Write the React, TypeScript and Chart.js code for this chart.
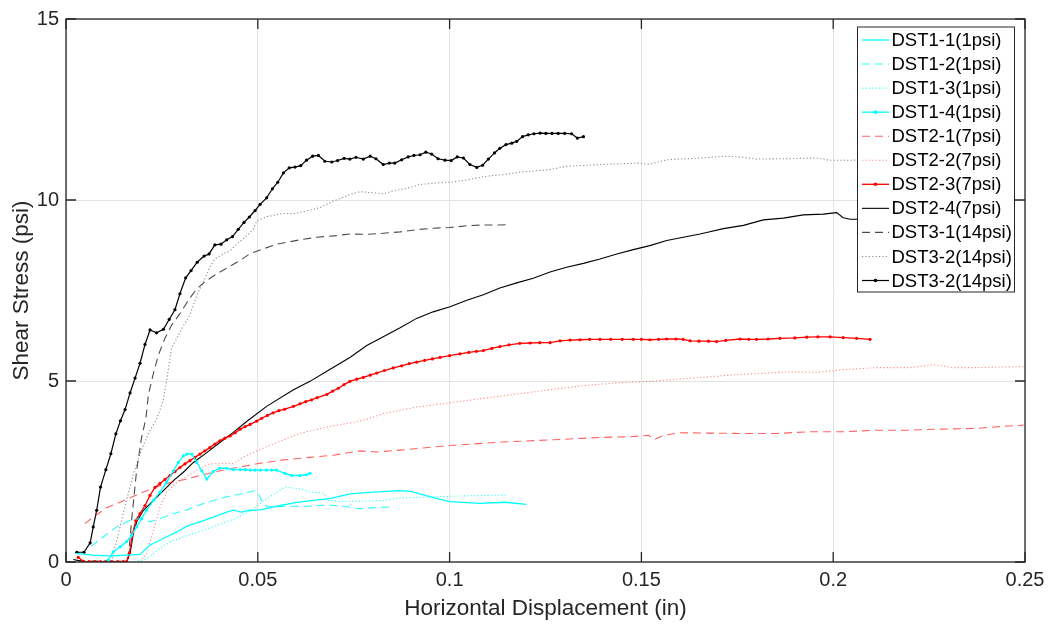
import React, { useEffect, useRef } from 'react';
import { Chart, registerables } from 'chart.js';

Chart.register(...registerables);

// ---------- axis ticks ----------
const X_TICKS = [0, 0.05, 0.1, 0.15, 0.2, 0.25];
const X_TICK_LABELS = ['0', '0.05', '0.1', '0.15', '0.2', '0.25'];
const Y_TICKS = [0, 5, 10, 15];
const Y_TICK_LABELS = ['0', '5', '10', '15'];
const X_TITLE = 'Horizontal Displacement (in)';
const Y_TITLE = 'Shear Stress (psi)';

// ---------- series names ----------
const SERIES_NAMES = [
  'DST1-1(1psi)', 'DST1-2(1psi)', 'DST1-3(1psi)', 'DST1-4(1psi)',
  'DST2-1(7psi)', 'DST2-2(7psi)', 'DST2-3(7psi)', 'DST2-4(7psi)',
  'DST3-1(14psi)', 'DST3-2(14psi)', 'DST3-2(14psi)',
];

// ---------- series data: [x (in), y (psi)] ----------
const DST1_1 = [[0.0026,0.24],[0.0071,0.19],[0.0115,0.17],[0.0158,0.19],[0.0193,0.21],[0.0219,0.47],[0.0254,0.65],[0.0289,0.83],[0.0315,0.99],[0.0349,1.11],[0.0384,1.24],[0.0419,1.38],[0.0436,1.43],[0.0458,1.38],[0.048,1.43],[0.0506,1.44],[0.0549,1.54],[0.0601,1.65],[0.0645,1.70],[0.0688,1.75],[0.074,1.88],[0.0801,1.93],[0.0871,1.97],[0.09,1.95],[0.095,1.80],[0.1,1.67],[0.108,1.62],[0.1145,1.65],[0.12,1.59]];
const DST1_2 = [[0.0066,0.44],[0.0097,0.69],[0.0132,0.97],[0.0167,1.15],[0.0193,1.20],[0.0219,1.11],[0.0245,1.20],[0.028,1.34],[0.0315,1.44],[0.0349,1.58],[0.0384,1.70],[0.0419,1.80],[0.0454,1.88],[0.0493,1.97],[0.0501,1.90],[0.0514,1.61],[0.0527,1.52],[0.0575,1.54],[0.0636,1.54],[0.068,1.58],[0.0723,1.54],[0.0766,1.47],[0.0801,1.50],[0.0845,1.52]];
const DST1_3 = [[0.017,0.0],[0.02,0.05],[0.0219,0.15],[0.0245,0.38],[0.0271,0.56],[0.0306,0.69],[0.0349,0.85],[0.0393,1.01],[0.0436,1.18],[0.048,1.40],[0.0523,1.75],[0.0571,2.07],[0.061,2.02],[0.0636,1.93],[0.0671,1.91],[0.0684,1.70],[0.0714,1.67],[0.0784,1.68],[0.0827,1.70],[0.0871,1.77],[0.095,1.80],[0.105,1.83],[0.115,1.85]];
const DST1_4 = [[0.011,0.05],[0.0123,0.28],[0.0141,0.42],[0.0158,0.56],[0.0171,0.74],[0.0184,0.97],[0.0197,1.20],[0.021,1.43],[0.0228,1.70],[0.0245,1.93],[0.0262,2.20],[0.028,2.52],[0.0293,2.75],[0.0306,2.93],[0.0315,2.98],[0.0328,2.98],[0.0341,2.75],[0.0354,2.52],[0.0367,2.29],[0.0384,2.50],[0.0401,2.59],[0.0419,2.59],[0.0436,2.55],[0.0454,2.55],[0.0467,2.55],[0.048,2.54],[0.0493,2.54],[0.0506,2.54],[0.0523,2.54],[0.0536,2.54],[0.0549,2.54],[0.0571,2.45],[0.0588,2.39],[0.061,2.39],[0.0627,2.41],[0.0636,2.45]];
const DST2_1 = [[0.0049,1.06],[0.0071,1.24],[0.0106,1.50],[0.0141,1.65],[0.0175,1.81],[0.021,1.97],[0.0245,2.11],[0.028,2.22],[0.0315,2.29],[0.0349,2.39],[0.0393,2.50],[0.0436,2.59],[0.0471,2.66],[0.0501,2.72],[0.0567,2.82],[0.0636,2.89],[0.0697,2.95],[0.0766,3.07],[0.081,3.04],[0.0871,3.09],[0.1,3.22],[0.115,3.32],[0.1297,3.39],[0.1392,3.44],[0.147,3.46],[0.1518,3.50],[0.1535,3.39],[0.1557,3.50],[0.1601,3.57],[0.1679,3.56],[0.1766,3.55],[0.1853,3.55],[0.194,3.60],[0.2026,3.60],[0.2113,3.64],[0.22,3.64],[0.227,3.67],[0.2374,3.69],[0.2418,3.73],[0.2496,3.78]];
const DST2_2 = [[0.0193,0.0],[0.021,0.24],[0.0228,0.88],[0.0245,1.52],[0.0262,1.93],[0.0289,2.20],[0.0332,2.48],[0.0375,2.71],[0.0401,2.72],[0.0436,2.72],[0.0462,2.89],[0.0501,3.09],[0.0549,3.30],[0.061,3.55],[0.068,3.73],[0.074,3.84],[0.0784,3.94],[0.0827,4.10],[0.0914,4.28],[0.1001,4.40],[0.1088,4.52],[0.1175,4.64],[0.1262,4.76],[0.1349,4.87],[0.1436,4.95],[0.1522,4.99],[0.1635,5.08],[0.174,5.17],[0.1879,5.25],[0.1957,5.24],[0.2026,5.31],[0.2113,5.37],[0.22,5.37],[0.2261,5.45],[0.2313,5.37],[0.2374,5.37],[0.2496,5.40]];
const DST2_3 = [[0.0032,0.13],[0.0045,0.02],[0.006,0.01],[0.0075,0.01],[0.009,0.01],[0.0105,0.01],[0.012,0.01],[0.0135,0.01],[0.015,0.01],[0.0158,0.01],[0.0165,0.24],[0.0174,0.79],[0.0182,1.15],[0.0193,1.34],[0.0206,1.56],[0.0219,1.84],[0.0232,2.06],[0.0245,2.17],[0.0258,2.28],[0.0271,2.39],[0.0284,2.5],[0.0297,2.61],[0.031,2.71],[0.0323,2.80],[0.0336,2.89],[0.0349,2.98],[0.0362,3.07],[0.0375,3.16],[0.0388,3.26],[0.0401,3.35],[0.0414,3.42],[0.0428,3.48],[0.0441,3.57],[0.0454,3.67],[0.0467,3.74],[0.048,3.80],[0.0497,3.89],[0.051,3.97],[0.0525,4.05],[0.054,4.12],[0.0555,4.18],[0.057,4.22],[0.0593,4.30],[0.061,4.37],[0.0625,4.43],[0.064,4.48],[0.0655,4.54],[0.068,4.63],[0.0695,4.72],[0.071,4.80],[0.0725,4.9],[0.074,4.99],[0.0758,5.05],[0.0775,5.10],[0.0793,5.16],[0.081,5.22],[0.083,5.29],[0.0853,5.36],[0.0875,5.42],[0.0895,5.48],[0.0914,5.52],[0.0935,5.57],[0.0955,5.61],[0.0975,5.65],[0.1,5.70],[0.1027,5.75],[0.105,5.79],[0.107,5.82],[0.1088,5.84],[0.111,5.90],[0.1131,5.95],[0.1155,6.0],[0.1183,6.04],[0.121,6.05],[0.1235,6.06],[0.1262,6.06],[0.1288,6.11],[0.1314,6.13],[0.134,6.14],[0.1365,6.15],[0.1392,6.15],[0.142,6.15],[0.145,6.15],[0.1479,6.15],[0.15,6.15],[0.1522,6.14],[0.1545,6.15],[0.1566,6.16],[0.159,6.16],[0.1609,6.15],[0.1627,6.11],[0.165,6.10],[0.1675,6.10],[0.1696,6.09],[0.172,6.12],[0.1757,6.16],[0.178,6.15],[0.18,6.15],[0.183,6.16],[0.1861,6.18],[0.19,6.19],[0.1931,6.21],[0.196,6.22],[0.1992,6.22],[0.2026,6.20],[0.2061,6.18],[0.2096,6.15]];
const DST2_4 = [[0.0019,0.07],[0.0045,0.01],[0.0158,0.01],[0.0167,0.24],[0.0177,0.88],[0.0186,1.15],[0.0202,1.43],[0.0228,1.70],[0.0254,1.97],[0.028,2.25],[0.0306,2.48],[0.0332,2.75],[0.0367,3.02],[0.0401,3.30],[0.0436,3.58],[0.0471,3.88],[0.0523,4.30],[0.0593,4.76],[0.0636,4.99],[0.068,5.27],[0.074,5.65],[0.0784,5.98],[0.0827,6.22],[0.0871,6.47],[0.0914,6.73],[0.0957,6.91],[0.1001,7.05],[0.1045,7.23],[0.1088,7.38],[0.1131,7.57],[0.1175,7.71],[0.1218,7.84],[0.1262,8.01],[0.1305,8.14],[0.1349,8.25],[0.1392,8.37],[0.1436,8.51],[0.1479,8.63],[0.1522,8.74],[0.1566,8.88],[0.1609,8.97],[0.1653,9.06],[0.167,9.10],[0.1714,9.21],[0.1766,9.30],[0.1818,9.45],[0.187,9.50],[0.1922,9.59],[0.1974,9.61],[0.2009,9.65],[0.2026,9.51],[0.2044,9.47],[0.2066,9.47],[0.21,9.48]];
const DST3_1 = [[0.003,0.03],[0.0158,0.02],[0.0162,0.05],[0.0171,1.15],[0.0184,2.52],[0.0197,3.44],[0.0208,3.95],[0.0215,4.63],[0.0228,5.22],[0.0241,5.72],[0.0258,6.18],[0.0275,6.54],[0.0297,6.86],[0.0319,7.23],[0.0341,7.55],[0.0367,7.78],[0.0393,7.96],[0.0419,8.12],[0.0454,8.33],[0.048,8.52],[0.0506,8.62],[0.0549,8.78],[0.061,8.90],[0.0654,8.97],[0.0697,9.01],[0.074,9.06],[0.0784,9.05],[0.0827,9.08],[0.0871,9.12],[0.0914,9.18],[0.0957,9.22],[0.1001,9.24],[0.1045,9.29],[0.1088,9.31],[0.1131,9.31],[0.1157,9.32]];
const DST3_2_DOT = [[0.0118,0.02],[0.0136,0.75],[0.0155,1.6],[0.0175,2.4],[0.0195,3.05],[0.0215,3.55],[0.0236,3.95],[0.0252,4.4],[0.0262,4.99],[0.0275,5.9],[0.0289,6.18],[0.0302,6.45],[0.0323,6.82],[0.0341,7.37],[0.0358,7.73],[0.0375,8.14],[0.0388,8.37],[0.041,8.51],[0.0428,8.60],[0.0445,8.78],[0.0471,9.01],[0.0488,9.19],[0.0497,9.42],[0.0523,9.54],[0.0567,9.63],[0.0593,9.62],[0.0636,9.72],[0.0662,9.79],[0.0697,9.97],[0.074,10.15],[0.0766,10.23],[0.0801,10.20],[0.0827,10.17],[0.0853,10.25],[0.0888,10.32],[0.0923,10.43],[0.0966,10.47],[0.101,10.50],[0.1053,10.57],[0.1097,10.66],[0.114,10.70],[0.1183,10.77],[0.1218,10.80],[0.1262,10.84],[0.1305,10.93],[0.1392,10.98],[0.1496,11.02],[0.152,10.99],[0.1566,11.11],[0.1653,11.16],[0.1722,11.21],[0.1757,11.19],[0.18,11.13],[0.187,11.14],[0.1957,11.16],[0.1992,11.10],[0.2053,11.10],[0.21,11.12]];
const DST3_2_MARK = [[0.0028,0.27],[0.0047,0.27],[0.0063,0.53],[0.0071,0.97],[0.008,1.43],[0.009,2.07],[0.0104,2.55],[0.0117,2.99],[0.013,3.54],[0.0142,3.9],[0.0154,4.21],[0.0167,4.67],[0.018,5.08],[0.0193,5.49],[0.0206,6.01],[0.0219,6.41],[0.0236,6.33],[0.0254,6.43],[0.0269,6.70],[0.0284,6.97],[0.0297,7.41],[0.0312,7.85],[0.0326,8.05],[0.0342,8.28],[0.036,8.45],[0.0373,8.51],[0.0388,8.76],[0.0404,8.78],[0.0419,8.90],[0.0434,8.99],[0.0449,9.19],[0.0464,9.38],[0.0478,9.53],[0.0493,9.71],[0.0506,9.88],[0.0523,10.06],[0.0538,10.31],[0.0552,10.49],[0.0567,10.75],[0.0582,10.89],[0.0597,10.91],[0.0612,10.95],[0.0627,11.10],[0.0643,11.21],[0.0658,11.23],[0.0675,11.07],[0.0693,11.05],[0.0708,11.09],[0.0725,11.15],[0.074,11.13],[0.0756,11.18],[0.0775,11.13],[0.0793,11.21],[0.0808,11.14],[0.0827,10.98],[0.0843,11.02],[0.0857,11.02],[0.0875,11.11],[0.0892,11.19],[0.0907,11.23],[0.0923,11.25],[0.0938,11.32],[0.0953,11.27],[0.097,11.14],[0.0988,11.10],[0.1004,11.09],[0.102,11.19],[0.1036,11.16],[0.1053,10.98],[0.1071,10.90],[0.1086,10.96],[0.1101,11.13],[0.1117,11.30],[0.1131,11.43],[0.1147,11.53],[0.1162,11.57],[0.1175,11.62],[0.119,11.75],[0.1205,11.80],[0.122,11.83],[0.1236,11.85],[0.1251,11.84],[0.1267,11.84],[0.1283,11.84],[0.13,11.84],[0.1318,11.83],[0.1333,11.71],[0.1349,11.75]];

const SERIES_DATA = [DST1_1, DST1_2, DST1_3, DST1_4, DST2_1, DST2_2, DST2_3, DST2_4, DST3_1, DST3_2_DOT, DST3_2_MARK];

// ---------- styles (separate from data) ----------
type Sty = { color: string; width: number; dash: number[]; marker: boolean };
const SOLID: number[] = [];
const DASH = [8, 5];
const DOT = [1.2, 2.2];
const STYLES: Sty[] = [
  { color: '#00ffff', width: 1.3, dash: SOLID, marker: false },
  { color: 'rgba(0,255,255,0.85)', width: 1.1, dash: DASH, marker: false },
  { color: 'rgba(0,255,255,0.8)', width: 1.1, dash: DOT, marker: false },
  { color: '#00ffff', width: 1.3, dash: SOLID, marker: true },
  { color: 'rgba(255,0,0,0.62)', width: 1.1, dash: DASH, marker: false },
  { color: 'rgba(255,0,0,0.45)', width: 1.1, dash: DOT, marker: false },
  { color: '#ff0000', width: 1.3, dash: SOLID, marker: true },
  { color: '#000000', width: 1.1, dash: SOLID, marker: false },
  { color: 'rgba(0,0,0,0.7)', width: 1.1, dash: DASH, marker: false },
  { color: 'rgba(0,0,0,0.45)', width: 1.1, dash: DOT, marker: false },
  { color: '#000000', width: 1.2, dash: SOLID, marker: true },
];

const FONT = '"Liberation Sans", Arial, sans-serif';
const AXIS_COLOR = '#262626';

const framePlugin = {
  id: 'matlabFrame',
  afterDatasetsDraw(chart: any) {
    const { ctx, chartArea, scales } = chart;
    const { left, right, top, bottom } = chartArea;
    const xs = scales.x;
    const ys = scales.y;
    ctx.save();
    ctx.strokeStyle = AXIS_COLOR;
    ctx.lineWidth = 1.3;
    ctx.setLineDash([]);
    ctx.strokeRect(left, top, right - left, bottom - top);
    const tl = 10;
    ctx.beginPath();
    X_TICKS.forEach((v) => {
      const px = xs.getPixelForValue(v);
      ctx.moveTo(px, bottom); ctx.lineTo(px, bottom - tl);
      ctx.moveTo(px, top); ctx.lineTo(px, top + tl);
    });
    Y_TICKS.forEach((v) => {
      const py = ys.getPixelForValue(v);
      ctx.moveTo(left, py); ctx.lineTo(left + tl, py);
      ctx.moveTo(right, py); ctx.lineTo(right - tl, py);
    });
    ctx.stroke();
    ctx.restore();
  },
  afterDraw(chart: any) {
    const { ctx } = chart;
    const bx = 857.5, by = 27, bw = 157, bh = 265;
    ctx.save();
    ctx.fillStyle = '#ffffff';
    ctx.fillRect(bx, by, bw, bh);
    ctx.strokeStyle = AXIS_COLOR;
    ctx.lineWidth = 1;
    ctx.strokeRect(bx, by, bw, bh);
    ctx.font = `18.5px ${FONT}`;
    ctx.textBaseline = 'middle';
    ctx.textAlign = 'left';
    SERIES_NAMES.forEach((name, i) => {
      const st = STYLES[i];
      const cy = 40 + i * 24.05;
      ctx.strokeStyle = st.color;
      ctx.lineWidth = st.width;
      ctx.setLineDash(st.dash);
      ctx.beginPath();
      ctx.moveTo(862, cy);
      ctx.lineTo(889, cy);
      ctx.stroke();
      ctx.setLineDash([]);
      if (st.marker) {
        ctx.fillStyle = st.color;
        ctx.beginPath();
        ctx.arc(875.5, cy, 1.8, 0, Math.PI * 2);
        ctx.fill();
      }
      ctx.fillStyle = '#000000';
      ctx.fillText(name, 891.5, cy + 1);
    });
    ctx.restore();
  },
};

export default function App() {
  const ref = useRef<HTMLCanvasElement | null>(null);
  useEffect(() => {
    if (!ref.current) return;
    const datasets = SERIES_DATA.map((pts, i) => {
      const st = STYLES[i];
      return {
        label: SERIES_NAMES[i],
        data: pts.map(([x, y]) => ({ x, y })),
        showLine: true,
        borderColor: st.color,
        backgroundColor: st.color,
        borderWidth: st.width,
        borderDash: st.dash,
        pointRadius: st.marker ? 1.6 : 0,
        pointBorderWidth: 0,
        pointBackgroundColor: st.color,
        tension: 0,
        fill: false,
      };
    });
    const chart = new Chart(ref.current, {
      type: 'scatter',
      data: { datasets },
      options: {
        animation: false,
        responsive: false,
        devicePixelRatio: 1,
        layout: { padding: { top: 15, right: 26, left: 0, bottom: 0 } },
        plugins: { legend: { display: false }, tooltip: { enabled: false } },
        scales: {
          x: {
            type: 'linear',
            min: 0,
            max: 0.25,
            afterBuildTicks: (s: any) => { s.ticks = X_TICKS.map((v) => ({ value: v })); },
            afterFit: (s: any) => { s.height = 64; },
            ticks: {
              callback: (_v: any, i: number) => X_TICK_LABELS[i],
              font: { family: FONT, size: 20 },
              color: AXIS_COLOR,
              padding: 6,
              maxRotation: 0,
              autoSkip: false,
            },
            grid: { color: '#e2e2e2', lineWidth: 1, drawTicks: false },
            border: { display: false },
            title: {
              display: true,
              text: X_TITLE,
              font: { family: FONT, size: 22.5 },
              color: AXIS_COLOR,
              padding: { top: 0, bottom: 4 },
            },
          },
          y: {
            type: 'linear',
            min: 0,
            max: 15,
            afterBuildTicks: (s: any) => { s.ticks = Y_TICKS.map((v) => ({ value: v })); },
            afterFit: (s: any) => { s.width = 66; },
            ticks: {
              callback: (_v: any, i: number) => Y_TICK_LABELS[i],
              font: { family: FONT, size: 20 },
              color: AXIS_COLOR,
              padding: 7,
              autoSkip: false,
            },
            grid: { color: '#e2e2e2', lineWidth: 1, drawTicks: false },
            border: { display: false },
            title: {
              display: true,
              text: Y_TITLE,
              font: { family: FONT, size: 22.5 },
              color: AXIS_COLOR,
              padding: { top: 8, bottom: 0 },
            },
          },
        },
      },
      plugins: [framePlugin],
    } as any);
    return () => chart.destroy();
  }, []);
  return (
    <div style={{ position: 'absolute', left: 0, top: 0, width: 1051, height: 626, background: '#fff' }}>
      <canvas ref={ref} width={1051} height={626} style={{ display: 'block', width: 1051, height: 626 }} />
    </div>
  );
}
